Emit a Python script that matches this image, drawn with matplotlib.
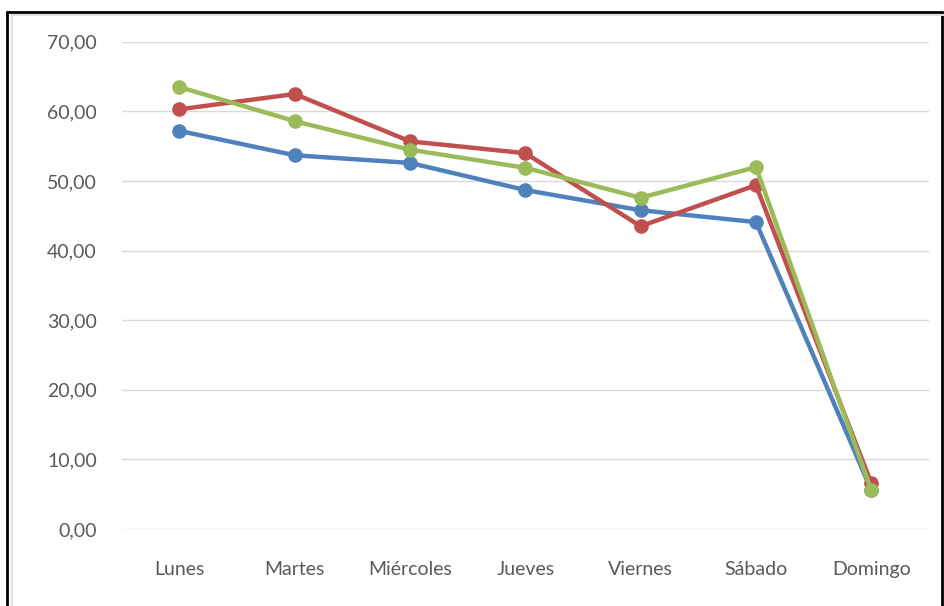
import matplotlib.pyplot as plt
from matplotlib.patches import Rectangle

dias = ["Lunes", "Martes", "Miércoles", "Jueves", "Viernes", "Sábado", "Domingo"]
serie_azul = [57.2, 53.7, 52.6, 48.7, 45.8, 44.1, 5.6]
serie_roja = [60.3, 62.5, 55.7, 54.0, 43.5, 49.4, 6.6]
serie_verde = [63.5, 58.6, 54.5, 51.9, 47.6, 52.0, 5.6]
yticks = [0, 10, 20, 30, 40, 50, 60, 70]

plt.rcParams['font.family'] = ['Lato', 'DejaVu Sans']
gris = '#595959'

fig = plt.figure(figsize=(9.44, 6.06), dpi=100)
ax = fig.add_axes([0.129, 0.127, 0.855, 0.804])

x = range(len(dias))
ax.plot(x, serie_azul, color='#4F81BD', lw=3.2, marker='o', ms=9.5, zorder=3)
ax.plot(x, serie_roja, color='#C0504D', lw=3.2, marker='o', ms=9.5, zorder=4)
ax.plot(x, serie_verde, color='#9BBB59', lw=3.2, marker='o', ms=9.5, zorder=5)

ax.set_xlim(-0.5, len(dias) - 0.5)
ax.set_ylim(0, 70)
ax.set_yticks(yticks)
ax.set_yticklabels(["{:.2f}".format(v).replace('.', ',') for v in yticks])
ax.set_xticks(list(x))
ax.set_xticklabels(dias)
ax.grid(axis='y', color='#d9d9d9', lw=1)
ax.set_axisbelow(True)
for s in ax.spines.values():
    s.set_visible(False)
ax.tick_params(length=0, colors=gris, labelsize=14)
ax.tick_params(axis='y', pad=18)
ax.tick_params(axis='x', pad=23)

# marco exterior
fig.add_artist(Rectangle((7 / 944, -0.05), 935 / 944, 1 - 12 / 606 + 0.05,
                         transform=fig.transFigure, fill=False, ec='black', lw=2))
fig.add_artist(Rectangle((12 / 944, -0.05), 940 / 944, 1 - 15 / 606 + 0.05,
                         transform=fig.transFigure, fill=False, ec='#e0e0e0', lw=1.5))

plt.savefig("out.png")
